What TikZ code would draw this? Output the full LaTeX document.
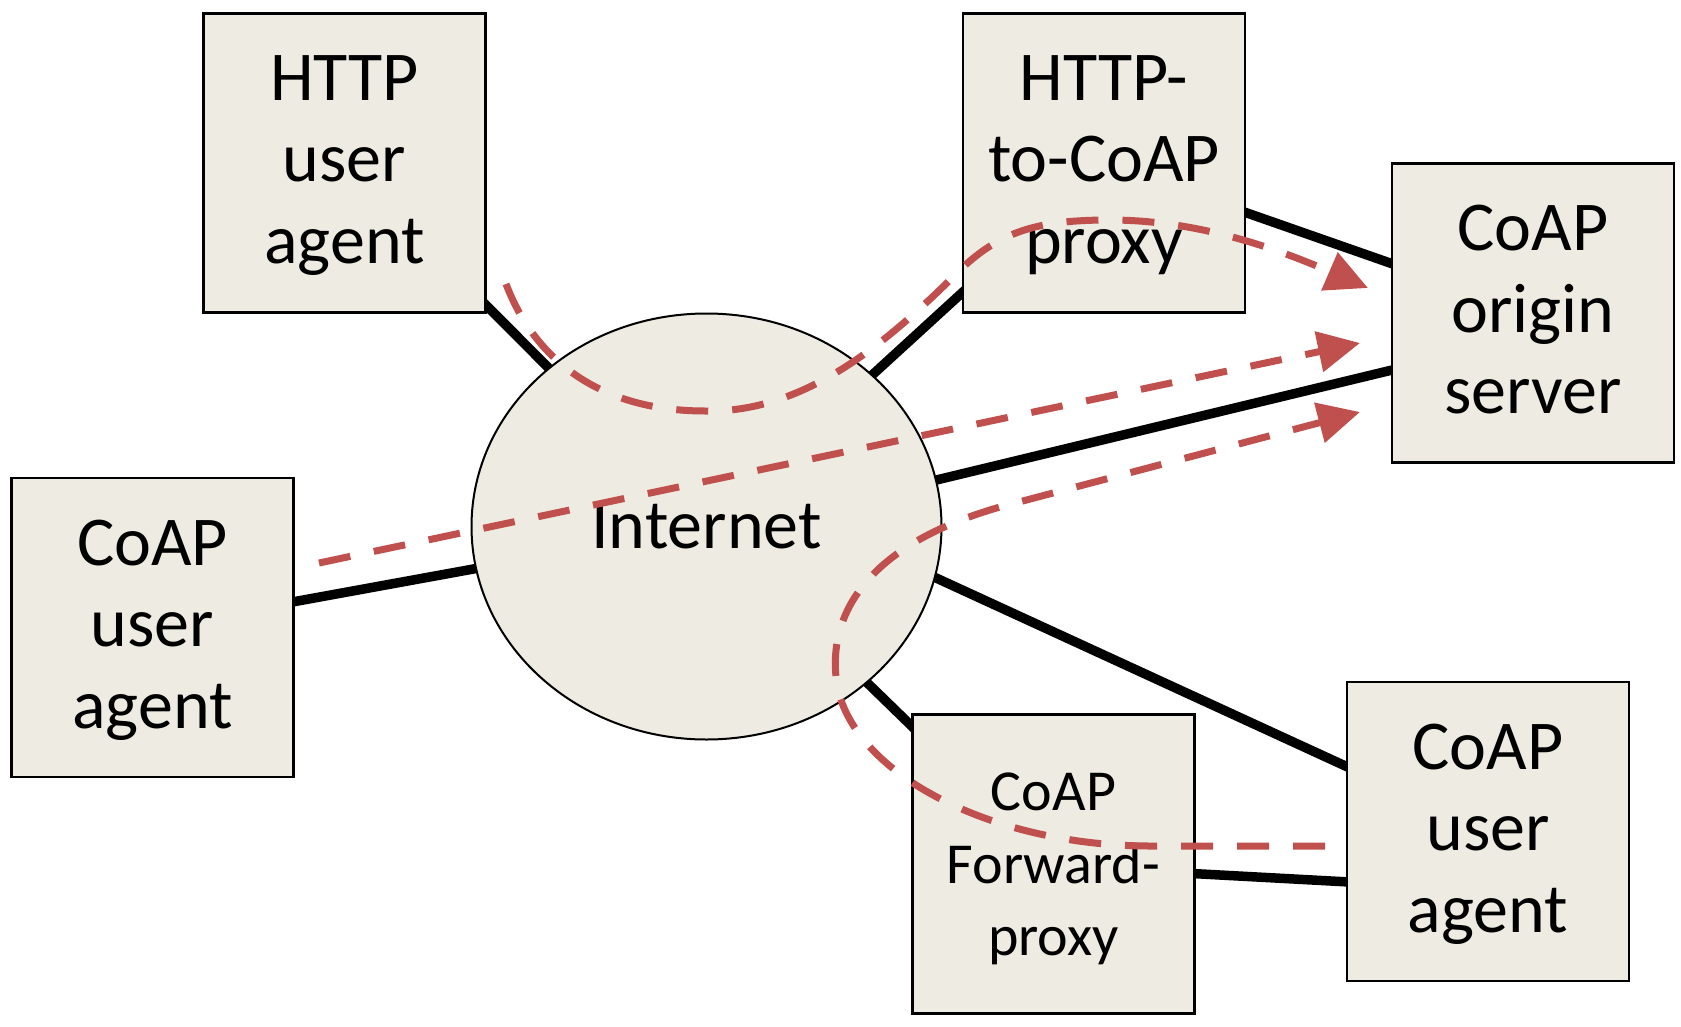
\documentclass[tikz,border=0pt]{standalone}
\usepackage{fontspec}
\setmainfont{Carlito}
\usetikzlibrary{arrows.meta, calc, shapes.geometric}
\pgfdeclarelayer{background}
\pgfsetlayers{background,main}
\definecolor{boxfill}{RGB}{237,235,226}
\definecolor{flowred}{RGB}{192,80,77}
\newcommand{\lntop}{\rule{0pt}{60pt}}
\newcommand{\lnbot}{\rule[-22pt]{0pt}{22pt}}

\begin{document}
\begin{tikzpicture}[x=1pt,y=-1pt,
  box/.style={draw=black,line width=2.7pt,fill=boxfill,minimum width=282pt,minimum height=299pt,align=center,font=\fontsize{70}{81.5}\selectfont},
  link/.style={line width=9.5pt},
  flow/.style={flowred,line width=7pt,dash pattern=on 32pt off 24pt,-{Triangle[length=42pt,width=40pt]}}]
\useasboundingbox (0,0) rectangle (1681,1027);

\node[box] (httpua) at (344.5,163) {\lntop HTTP\\user\\agent\lnbot};
\node[box] (proxy) at (1104,163) {\lntop HTTP-\\to-CoAP\\proxy\lnbot};
\node[box] (origin) at (1533,313) {\lntop CoAP\\origin\\server\lnbot};
\node[box] (coapua) at (152.5,627.5) {\lntop CoAP\\user\\agent\lnbot};
\node[box,font=\fontsize{58}{72.5}\selectfont] (fwdproxy) at (1053.5,864) {\lntop CoAP\\Forward-\\proxy\lnbot};
\node[box] (coapub) at (1488,831.5) {\lntop CoAP\\user\\agent\lnbot};
\node[ellipse,draw=black,line width=2pt,fill=boxfill,minimum width=470pt,minimum height=426pt,font=\fontsize{70}{80}\selectfont] (inet) at (706.5,526.5) {Internet};

\begin{pgfonlayer}{background}
\draw[link] (httpua.center) -- (inet.center);
\draw[link] (proxy.center) -- (inet.center);
\draw[link] (proxy.center) -- (origin.center);
\draw[link] ($(inet.center)+(0,9)$) -- ($(origin.center)+(0,23)$);
\draw[link] (coapua.center) -- (inet.center);
\draw[link] ($(inet.center)+(0,-54)$) -- (coapub.center);
\draw[link] (inet.center) -- (fwdproxy.center);
\draw[link] ($(fwdproxy.center)+(0,2)$) -- ($(coapub.center)+(0,58)$);
\end{pgfonlayer}

% request paths
\draw[flow] (506,284) .. controls (535,360) and (600,411) .. (705,411)
  .. controls (800,413) and (880,350) .. (957,273)
  .. controls (1000,230) and (1040,220) .. (1110,220)
  .. controls (1200,220) and (1280,250) .. (1368,288);
\draw[flow] (319,563) -- (1360,343);
\draw[flow] (1325,846) -- (1150,846) .. controls (1000,846) and (860,780) .. (838,690)
  .. controls (826,630) and (850,550) .. (1000,507) -- (1360,412);
\end{tikzpicture}
\end{document}
